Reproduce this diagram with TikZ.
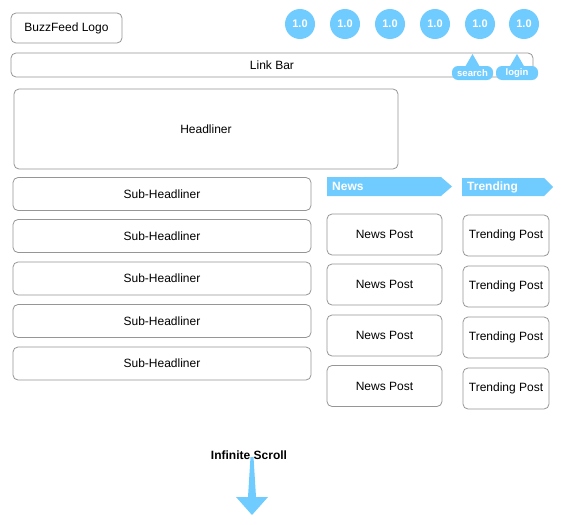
\documentclass[tikz,border=0pt]{standalone}
\usepackage{fontspec}
\setmainfont{Liberation Sans}
\definecolor{sky}{RGB}{112,204,255}
\definecolor{edge}{RGB}{150,150,150}
\begin{document}
\begin{tikzpicture}[x=1pt,y=-1pt,
  box/.style={draw=edge,line width=0.8pt,rounded corners=5pt,fill=white,font=\fontsize{12}{14}\selectfont},
  dot/.style={circle,fill=sky,minimum size=30pt,inner sep=0pt,text=white,font=\bfseries\fontsize{11}{13}\selectfont},
  tagtext/.style={text=white,font=\bfseries\fontsize{9.5}{11}\selectfont,inner sep=0pt},
  bantext/.style={text=white,font=\bfseries\fontsize{12}{14}\selectfont,anchor=west,inner sep=0pt}]
\useasboundingbox (0,0) rectangle (563,525);
\fill[white] (0,0) rectangle (563,525);
% logo
\node[box,minimum width=111pt,minimum height=30pt] (logo) at (66.5,28) {BuzzFeed Logo};
% circles
\foreach \i/\x in {1/300,2/345,3/390,4/435,5/480,6/524}{
  \node[dot] (c\i) at (\x,24) {1.0};
}
% link bar
\node[box,minimum width=522pt,minimum height=24pt] (link) at (272,65) {Link Bar};
% callouts
\fill[sky,rounded corners=6pt] (452,66) rectangle (493,80);
\fill[sky] (465,67) -- (472.5,54) -- (480,67) -- cycle;
\node[tagtext] (search) at (472.5,73.5) {search};
\fill[sky,rounded corners=6pt] (496,66) rectangle (538,80);
\fill[sky] (509.5,67) -- (517,54) -- (524.5,67) -- cycle;
\node[tagtext] (login) at (517,73.5) {login};
% headliner
\node[box,minimum width=384pt,minimum height=80pt] (head) at (206,129) {Headliner};
% sub headliners
\foreach \i/\y in {1/194,2/236,3/278.5,4/321,5/363.5}{
  \node[box,minimum width=298pt,minimum height=33pt] (sub\i) at (162,\y) {Sub-Headliner};
}
% banners
\fill[sky] (327,177) -- (441,177) -- (452,186.5) -- (441,196) -- (327,196) -- cycle;
\node[bantext] (news) at (332,186.5) {News};
\fill[sky] (462,178) -- (544,178) -- (553,187) -- (544,196) -- (462,196) -- cycle;
\node[bantext] (trend) at (467,187) {Trending};
% news posts
\foreach \i/\y in {1/234.5,2/284.5,3/335.5,4/386}{
  \node[box,minimum width=115pt,minimum height=41pt] (np\i) at (384.5,\y) {News Post};
}
% trending posts
\foreach \i/\y in {1/235.5,2/286.5,3/337.5,4/388.5}{
  \node[box,minimum width=86pt,minimum height=41pt,inner sep=1pt] (tp\i) at (506,\y) {Trending Post};
}
% infinite scroll arrow
\fill[sky] (250.5,457) -- (253.5,457) -- (256,497) -- (268,497) -- (252,515) -- (236,497) -- (248,497) -- cycle;
\node[font=\bfseries\fontsize{12}{14}\selectfont,inner sep=0pt] (inf) at (249,455) {Infinite Scroll};
\end{tikzpicture}
\end{document}
